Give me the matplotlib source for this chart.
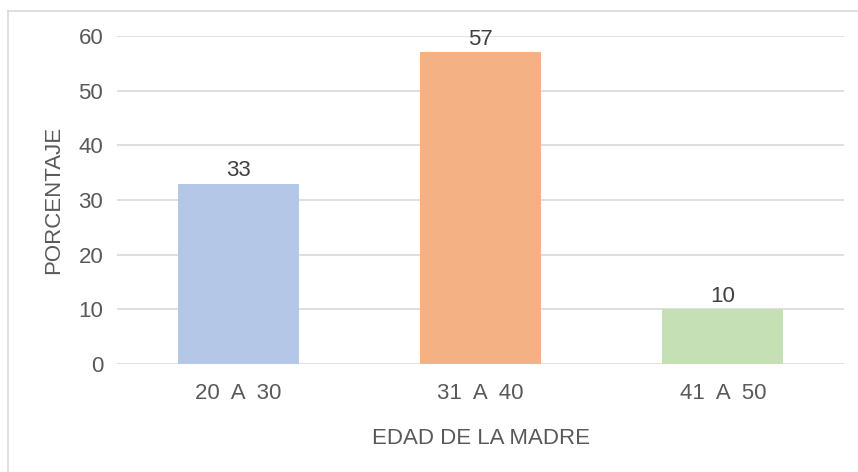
import matplotlib.pyplot as plt
from matplotlib.lines import Line2D

# datos
categorias = ["20  A  30", "31  A  40", "41  A  50"]
porcentajes = [33, 57, 10]
colores = ["#b4c7e7", "#f4b183", "#c5e0b4"]

gris = "#595959"
plt.rcParams["font.family"] = ["Liberation Sans", "DejaVu Sans"]

fig = plt.figure(figsize=(8.58, 4.72), dpi=100)
ax = fig.add_axes([0.1364, 0.2288, 0.8473, 0.6949])

x = range(len(categorias))
barras = ax.bar(x, porcentajes, width=0.5, color=colores, zorder=3)
for b, v in zip(barras, porcentajes):
    ax.text(b.get_x() + b.get_width() / 2, v + 0.4, str(v), ha="center", va="bottom",
            fontsize=16, color="#404040")

ax.set_xlim(-0.5, len(categorias) - 0.5)
ax.set_ylim(0, 60)
ax.set_yticks(range(0, 61, 10))
ax.set_xticks(list(x))
ax.set_xticklabels(categorias)
ax.grid(axis="y", color="#d9d9d9", linewidth=1.2, zorder=0)
for s in ax.spines.values():
    s.set_visible(False)
ax.tick_params(axis="both", length=0, labelsize=16, labelcolor=gris)
ax.tick_params(axis="x", pad=14)
ax.tick_params(axis="y", pad=10)

ax.set_ylabel("PORCENTAJE", fontsize=16, color=gris, labelpad=10)
ax.set_xlabel("EDAD DE LA MADRE", fontsize=16, color=gris, labelpad=17)

# borde del grafico
fig.add_artist(Line2D([7.5 / 858, 1], [1 - 10.5 / 472] * 2, color="#d9d9d9", linewidth=1.2))
fig.add_artist(Line2D([7.5 / 858] * 2, [0, 1 - 10.5 / 472], color="#d9d9d9", linewidth=1.2))

fig.savefig("out.png", dpi=100)
